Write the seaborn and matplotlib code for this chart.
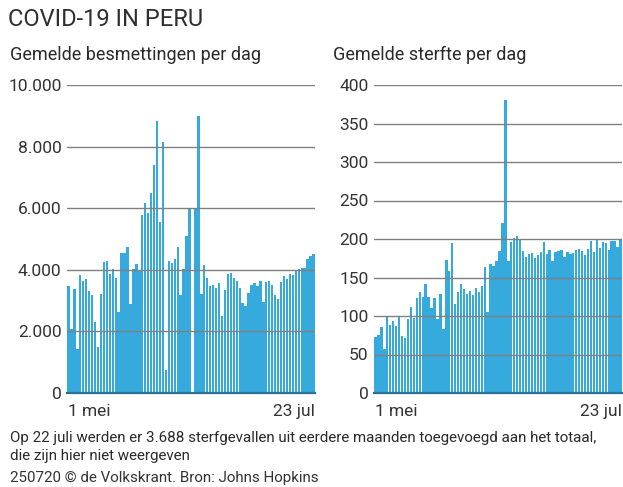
import matplotlib
matplotlib.use("Agg")
import matplotlib.pyplot as plt
import seaborn as sns
import pandas as pd
import numpy as np

# ---- data ----
dates = pd.date_range("2020-05-01", "2020-07-23", freq="D")
cases = [3473, 2075, 3387, 1430, 3817, 3624, 3710, 3323, 3172, 2290,
         1505, 3226, 4247, 4301, 3871, 4032, 3731, 2634, 4548, 4548,
         4731, 2903, 4032, 4194, 3978, 5774, 6161, 5860, 6505, 7387,
         8817, 5559, 8140, 731, 4290, 4215, 4355, 4753, 3172, 4032,
         5086, 6000, 0, 6000, 8978, 3226, 4161, 3731, 3473, 3516,
         3409, 3581, 2505, 3355, 3871, 3903, 3742, 3624, 3409, 2935,
         2828, 3247, 3495, 3581, 3473, 3624, 2957, 3602, 3624, 3516,
         3194, 3065, 3602, 3796, 3710, 3871, 3839, 3946, 4011, 4065,
         4065, 4355, 4441, 4516]
deaths = [73, 75, 86, 57, 99, 88, 93, 87, 100, 74,
          72, 96, 112, 98, 124, 131, 125, 141, 125, 110,
          123, 96, 129, 83, 173, 159, 195, 115, 131, 141,
          135, 128, 133, 127, 137, 131, 139, 163, 105, 167,
          165, 172, 185, 221, 381, 171, 196, 201, 204, 200,
          184, 177, 181, 182, 175, 179, 183, 196, 181, 186,
          172, 183, 185, 186, 176, 183, 181, 182, 186, 187,
          184, 179, 187, 198, 183, 199, 188, 196, 195, 186,
          198, 197, 189, 200]
case_ticks = [0, 2000, 4000, 6000, 8000, 10000]
case_ticklabels = ["0", "2.000", "4.000", "6.000", "8.000", "10.000"]
death_ticks = [0, 50, 100, 150, 200, 250, 300, 350, 400]
death_ticklabels = [str(v) for v in death_ticks]
x_ticklabels = ["1 mei", "23 jul"]

title = "COVID-19 IN PERU"
sub_cases = "Gemelde besmettingen per dag"
sub_deaths = "Gemelde sterfte per dag"
note1 = "Op 22 juli werden er 3.688 sterfgevallen uit eerdere maanden toegevoegd aan het totaal,"
note2 = "die zijn hier niet weergeven"
source = "250720 \u00a9 de Volkskrant. Bron: Johns Hopkins"

df = pd.DataFrame({"date": dates, "cases": cases, "deaths": deaths})
df["day"] = np.arange(len(df))

sns.set_theme(style="white")
plt.rcParams["font.family"] = ["Roboto", "DejaVu Sans"]

W, H = 623, 487
fig = plt.figure(figsize=(W / 100, H / 100), dpi=100)
bar_color = "#36a9dd"
txt = "#2a2a2a"

def make_ax(x0, x1, y0, y1):
    return fig.add_axes([x0 / W, (H - y0) / H, (x1 - x0) / W, (y0 - y1) / H])

ax1 = make_ax(67, 315, 393, 85)
ax2 = make_ax(374, 622, 393, 85)

for ax, col, ticks, labels, top in [
    (ax1, "cases", case_ticks, case_ticklabels, 10000),
    (ax2, "deaths", death_ticks, death_ticklabels, 400),
]:
    sns.barplot(data=df, x="day", y=col, color=bar_color, width=0.8,
                saturation=1, ax=ax, linewidth=0)
    ax.set_xlim(-0.5, len(df) - 0.5)
    ax.set_ylim(0, top)
    ax.set_axisbelow(False)
    ax.yaxis.grid(True, color="#808080", linewidth=1.0)
    ax.xaxis.grid(False)
    for s in ax.spines.values():
        s.set_visible(False)
    ax.spines["bottom"].set_visible(True)
    ax.spines["bottom"].set_color("#1f6f98")
    ax.spines["bottom"].set_linewidth(1.6)
    ax.set_yticks(ticks)
    ax.set_yticklabels(labels)
    ax.tick_params(axis="y", length=0, pad=4, labelsize=12.5, labelcolor="#333333")
    ax.set_xticks([-0.3, len(df) - 0.7])
    ax.set_xticklabels(x_ticklabels)
    ax.tick_params(axis="x", length=6, width=2.2, color="#222222", pad=2,
                   labelsize=12.5, labelcolor="#333333", direction="out")
    xl = ax.get_xticklabels()
    xl[0].set_ha("left")
    xl[1].set_ha("right")
    ax.set_xlabel("")
    ax.set_ylabel("")

fig.text(8 / W, 1 - 20 / H, title, fontsize=17, color="#2f2f2f", va="center",
         ha="left")
fig.text(10 / W, 1 - 55 / H, sub_cases, fontsize=13, color=txt, va="center", ha="left")
fig.text(333 / W, 1 - 55 / H, sub_deaths, fontsize=13, color=txt, va="center", ha="left")
fig.text(10 / W, 1 - 438 / H, note1, fontsize=10.9, color=txt, va="center", ha="left")
fig.text(10 / W, 1 - 456 / H, note2, fontsize=10.9, color=txt, va="center", ha="left")
fig.text(10 / W, 1 - 478 / H, source, fontsize=10.9, color="#333333", va="center", ha="left")

fig.savefig("out.png", dpi=100)
